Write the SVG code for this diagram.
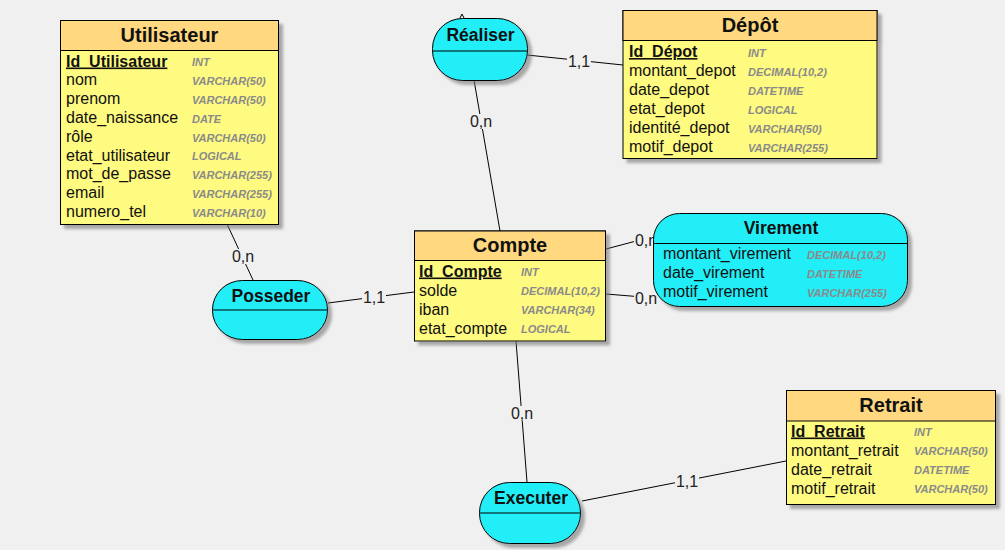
<svg xmlns="http://www.w3.org/2000/svg" width="1005" height="550" viewBox="0 0 1005 550">
<defs>
<filter id="sh" x="-10%" y="-10%" width="130%" height="130%">
<feDropShadow dx="4" dy="4" stdDeviation="1.5" flood-color="#777" flood-opacity="0.6"/>
</filter>
</defs>
<style>
.bg{fill:#F0F0F0}
.ent{fill:#FFFA80;stroke:#000;stroke-width:1}
.hdr{fill:#FFD880;stroke:#000;stroke-width:1}
.asso{fill:#22EEF8;stroke:#000;stroke-width:1}
.ln{stroke:#000;stroke-width:1;fill:none}
.title{font-family:"Liberation Sans",Arial,sans-serif;font-weight:bold;font-size:20px;fill:#111;text-anchor:middle}
.atitle{font-family:"Liberation Sans",Arial,sans-serif;font-weight:bold;font-size:17.5px;fill:#111;text-anchor:middle}
.f{font-family:"Liberation Sans",Arial,sans-serif;font-size:16px;fill:#111}
.k{font-family:"Liberation Sans",Arial,sans-serif;font-size:16px;font-weight:bold;fill:#111;text-decoration:underline}
.t{font-family:"Liberation Sans",Arial,sans-serif;font-size:11px;font-weight:bold;font-style:italic;fill:#8a8a8a}
.lb{fill:#F0F0F0}
.card{font-family:"Liberation Sans",Arial,sans-serif;font-size:16px;fill:#222;text-anchor:middle}
</style>
<rect class="bg" x="0" y="0" width="1005" height="550"/>

<g id="connectors">
<line class="ln" x1="227" y1="224" x2="253" y2="280"/>
<rect class="lb" x="231" y="249" width="24" height="15"/>
<text class="card" x="243" y="262">0,n</text>
<line class="ln" x1="328" y1="303" x2="414" y2="292"/>
<rect class="lb" x="362" y="290" width="24" height="15"/>
<text class="card" x="374" y="303">1,1</text>
<line class="ln" x1="474" y1="80" x2="500" y2="231"/>
<rect class="lb" x="469" y="114" width="24" height="15"/>
<text class="card" x="481" y="127">0,n</text>
<line class="ln" x1="527" y1="55" x2="623" y2="65"/>
<rect class="lb" x="567" y="54" width="24" height="15"/>
<text class="card" x="579" y="67">1,1</text>
<line class="ln" x1="606" y1="249" x2="655" y2="236"/>
<rect class="lb" x="634" y="233" width="24" height="15"/>
<text class="card" x="646" y="246">0,n</text>
<line class="ln" x1="606" y1="294" x2="655" y2="298"/>
<rect class="lb" x="634" y="291" width="24" height="15"/>
<text class="card" x="646" y="304">0,n</text>
<line class="ln" x1="516" y1="341" x2="527" y2="482"/>
<rect class="lb" x="510" y="406" width="24" height="15"/>
<text class="card" x="522" y="419">0,n</text>
<line class="ln" x1="582" y1="501" x2="786" y2="461"/>
<rect class="lb" x="675" y="474" width="24" height="15"/>
<text class="card" x="687" y="487">1,1</text>
<path class="ln" d="M460,18 L462,14 L464,18"/>
</g>

<g id="Utilisateur">
<g filter="url(#sh)">
<rect class="ent" x="60.5" y="20.5" width="218" height="204"/>
<rect class="hdr" x="60.5" y="20.5" width="218" height="30"/>
</g>
<text class="title" x="169.5" y="42">Utilisateur</text>
<text class="k" x="66" y="66.5">Id_Utilisateur</text><text class="t" x="192" y="66">INT</text>
<text class="f" x="66" y="85.3">nom</text><text class="t" x="192" y="85">VARCHAR(50)</text>
<text class="f" x="66" y="104.1">prenom</text><text class="t" x="192" y="104">VARCHAR(50)</text>
<text class="f" x="66" y="122.9">date_naissance</text><text class="t" x="192" y="122.5">DATE</text>
<text class="f" x="66" y="141.7">rôle</text><text class="t" x="192" y="141.5">VARCHAR(50)</text>
<text class="f" x="66" y="160.5">etat_utilisateur</text><text class="t" x="192" y="160">LOGICAL</text>
<text class="f" x="66" y="179.3">mot_de_passe</text><text class="t" x="192" y="179">VARCHAR(255)</text>
<text class="f" x="66" y="198.1">email</text><text class="t" x="192" y="198">VARCHAR(255)</text>
<text class="f" x="66" y="216.9">numero_tel</text><text class="t" x="192" y="216.5">VARCHAR(10)</text>
</g>

<g id="Depot">
<g filter="url(#sh)">
<rect class="ent" x="623" y="10.5" width="254" height="148"/>
<rect class="hdr" x="623" y="10.5" width="254" height="30"/>
</g>
<text class="title" x="750" y="32">Dépôt</text>
<text class="k" x="629" y="57">Id_Dépot</text><text class="t" x="748" y="56.5">INT</text>
<text class="f" x="629" y="76">montant_depot</text><text class="t" x="748" y="75.5">DECIMAL(10,2)</text>
<text class="f" x="629" y="95">date_depot</text><text class="t" x="748" y="94.5">DATETIME</text>
<text class="f" x="629" y="114">etat_depot</text><text class="t" x="748" y="113.5">LOGICAL</text>
<text class="f" x="629" y="133">identité_depot</text><text class="t" x="748" y="132.5">VARCHAR(50)</text>
<text class="f" x="629" y="152">motif_depot</text><text class="t" x="748" y="151.5">VARCHAR(255)</text>
</g>

<g id="Realiser">
<rect class="asso" x="432.5" y="18.5" width="95" height="62" rx="30" ry="30" filter="url(#sh)"/>
<line class="ln" x1="432.5" y1="51" x2="527.5" y2="51"/>
<text class="atitle" x="480.5" y="41">Réaliser</text>
</g>

<g id="Compte">
<g filter="url(#sh)">
<rect class="ent" x="414.5" y="231" width="191" height="110"/>
<rect class="hdr" x="414.5" y="231" width="191" height="29.5"/>
</g>
<text class="title" x="510" y="252">Compte</text>
<text class="k" x="419" y="276.5">Id_Compte</text><text class="t" x="521" y="276">INT</text>
<text class="f" x="419" y="295.5">solde</text><text class="t" x="521" y="295">DECIMAL(10,2)</text>
<text class="f" x="419" y="314.5">iban</text><text class="t" x="521" y="314">VARCHAR(34)</text>
<text class="f" x="419" y="333.5">etat_compte</text><text class="t" x="521" y="333">LOGICAL</text>
</g>

<g id="Posseder">
<rect class="asso" x="212.5" y="280.5" width="115" height="59" rx="30" ry="29" filter="url(#sh)"/>
<line class="ln" x1="212.5" y1="310" x2="327.5" y2="310"/>
<text class="atitle" x="271" y="302">Posseder</text>
</g>

<g id="Virement">
<rect class="asso" x="653.5" y="213.5" width="254" height="93" rx="26" ry="26" filter="url(#sh)"/>
<line class="ln" x1="653.5" y1="243.5" x2="907.5" y2="243.5"/>
<text class="atitle" x="781" y="234">Virement</text>
<text class="f" x="663" y="259">montant_virement</text><text class="t" x="807" y="258.5">DECIMAL(10,2)</text>
<text class="f" x="663" y="278">date_virement</text><text class="t" x="807" y="277.5">DATETIME</text>
<text class="f" x="663" y="297">motif_virement</text><text class="t" x="807" y="296.5">VARCHAR(255)</text>
</g>

<g id="Executer">
<rect class="asso" x="479.5" y="482.5" width="101" height="61" rx="30" ry="30" filter="url(#sh)"/>
<line class="ln" x1="479.5" y1="513" x2="580.5" y2="513"/>
<text class="atitle" x="531" y="503.5">Executer</text>
</g>

<g id="Retrait">
<g filter="url(#sh)">
<rect class="ent" x="786.5" y="390.5" width="209" height="114"/>
<rect class="hdr" x="786.5" y="390.5" width="209" height="30.5"/>
</g>
<text class="title" x="891" y="412">Retrait</text>
<text class="k" x="791" y="436.5">Id_Retrait</text><text class="t" x="914" y="436">INT</text>
<text class="f" x="791" y="455.5">montant_retrait</text><text class="t" x="914" y="455">VARCHAR(50)</text>
<text class="f" x="791" y="474.5">date_retrait</text><text class="t" x="914" y="474">DATETIME</text>
<text class="f" x="791" y="493.5">motif_retrait</text><text class="t" x="914" y="493">VARCHAR(50)</text>
</g>
</svg>
